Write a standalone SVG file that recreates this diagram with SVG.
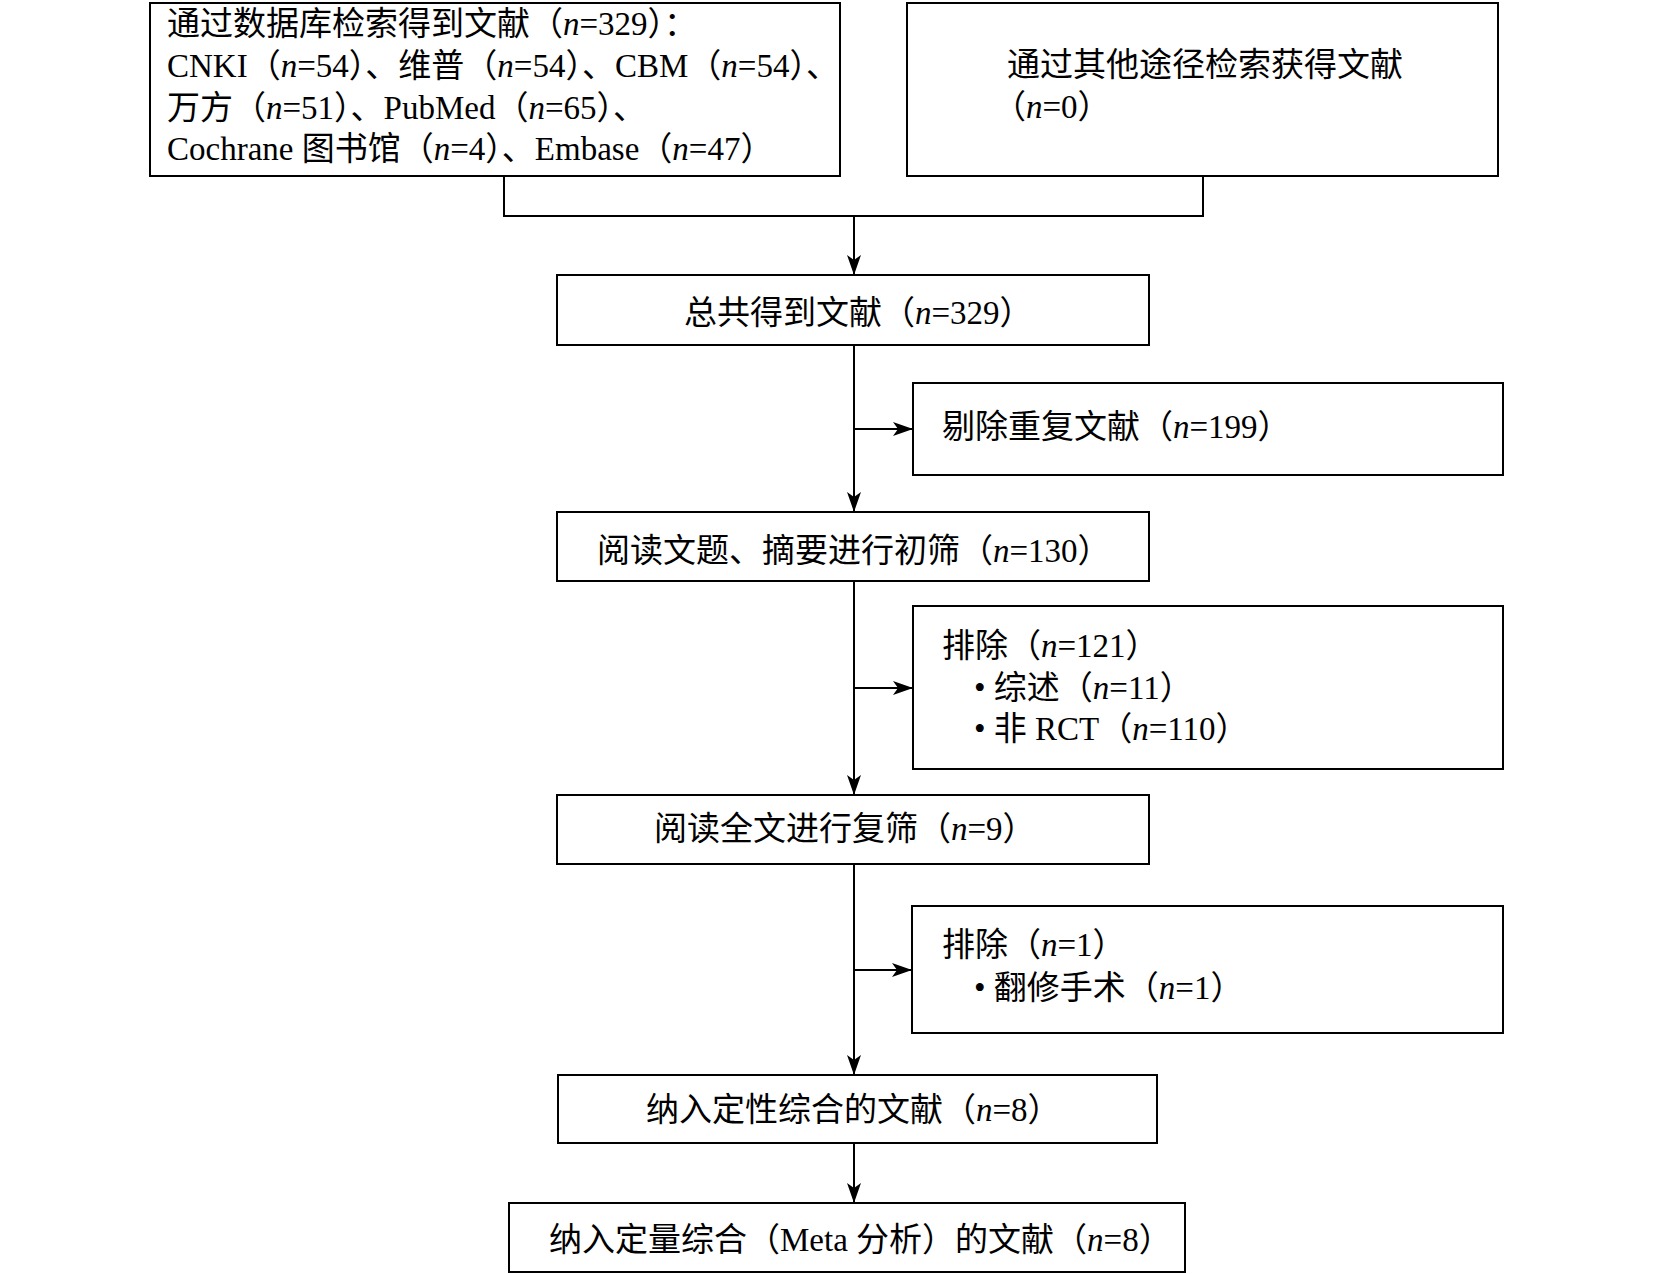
<svg xmlns="http://www.w3.org/2000/svg" width="1654" height="1274" viewBox="0 0 1654 1274">
<style>
.box{fill:#fff;stroke:#000;stroke-width:2}
.t{font-family:'Liberation Serif','Noto Sans CJK SC',serif;font-size:33px;fill:#000}
.i{font-style:italic}
.c{fill:none;stroke:#000;stroke-width:2}
</style>
<defs>
<marker id="ah" markerUnits="userSpaceOnUse" markerWidth="20" markerHeight="16" refX="20" refY="8" orient="auto"><path d="M0,1 L20,8 L0,15 L5,8 z" fill="#000"/></marker>
</defs>
<rect width="1654" height="1274" fill="#fff"/>
<g id="connectors">
<path class="c" d="M504,176 V216 H1203 V176"/>
<line class="c" x1="854" y1="216" x2="854" y2="275" marker-end="url(#ah)"/>
<line class="c" x1="854" y1="345" x2="854" y2="512" marker-end="url(#ah)"/>
<line class="c" x1="854" y1="429" x2="913" y2="429" marker-end="url(#ah)"/>
<line class="c" x1="854" y1="581" x2="854" y2="795" marker-end="url(#ah)"/>
<line class="c" x1="854" y1="688" x2="913" y2="688" marker-end="url(#ah)"/>
<line class="c" x1="854" y1="864" x2="854" y2="1075" marker-end="url(#ah)"/>
<line class="c" x1="854" y1="970" x2="912" y2="970" marker-end="url(#ah)"/>
<line class="c" x1="854" y1="1143" x2="854" y2="1203" marker-end="url(#ah)"/>
</g>
<g id="db">
<rect class="box" x="150" y="3" width="690" height="173"/>
<text class="t" x="167" y="35">通过数据库检索得到文献（<tspan class="i">n</tspan>=329）：</text>
<text class="t" x="167" y="77">CNKI（<tspan class="i">n</tspan>=54）、维普（<tspan class="i">n</tspan>=54）、CBM（<tspan class="i">n</tspan>=54）、</text>
<text class="t" x="167" y="119">万方（<tspan class="i">n</tspan>=51）、PubMed（<tspan class="i">n</tspan>=65）、</text>
<text class="t" x="167" y="160">Cochrane 图书馆（<tspan class="i">n</tspan>=4）、Embase（<tspan class="i">n</tspan>=47）</text>
</g>
<g id="other">
<rect class="box" x="907" y="3" width="591" height="173"/>
<text class="t" x="1007" y="76">通过其他途径检索获得文献</text>
<text class="t" x="993" y="118">（<tspan class="i">n</tspan>=0）</text>
</g>
<g id="total">
<rect class="box" x="557" y="275" width="592" height="70"/>
<text class="t" x="684" y="324">总共得到文献（<tspan class="i">n</tspan>=329）</text>
</g>
<g id="dup">
<rect class="box" x="913" y="383" width="590" height="92"/>
<text class="t" x="942" y="438">剔除重复文献（<tspan class="i">n</tspan>=199）</text>
</g>
<g id="screen1">
<rect class="box" x="557" y="512" width="592" height="69"/>
<text class="t" x="597" y="562">阅读文题、摘要进行初筛（<tspan class="i">n</tspan>=130）</text>
</g>
<g id="excl1">
<rect class="box" x="913" y="606" width="590" height="163"/>
<text class="t" x="942" y="657">排除（<tspan class="i">n</tspan>=121）</text>
<text class="t" x="974" y="699">• 综述（<tspan class="i">n</tspan>=11）</text>
<text class="t" x="974" y="740">• 非 RCT（<tspan class="i">n</tspan>=110）</text>
</g>
<g id="screen2">
<rect class="box" x="557" y="795" width="592" height="69"/>
<text class="t" x="654" y="840">阅读全文进行复筛（<tspan class="i">n</tspan>=9）</text>
</g>
<g id="excl2">
<rect class="box" x="912" y="906" width="591" height="127"/>
<text class="t" x="942" y="956">排除（<tspan class="i">n</tspan>=1）</text>
<text class="t" x="974" y="999">• 翻修手术（<tspan class="i">n</tspan>=1）</text>
</g>
<g id="qual">
<rect class="box" x="558" y="1075" width="599" height="68"/>
<text class="t" x="646" y="1121">纳入定性综合的文献（<tspan class="i">n</tspan>=8）</text>
</g>
<g id="quant">
<rect class="box" x="509" y="1203" width="676" height="69"/>
<text class="t" x="549" y="1251">纳入定量综合（Meta 分析）的文献（<tspan class="i">n</tspan>=8）</text>
</g>
</svg>
